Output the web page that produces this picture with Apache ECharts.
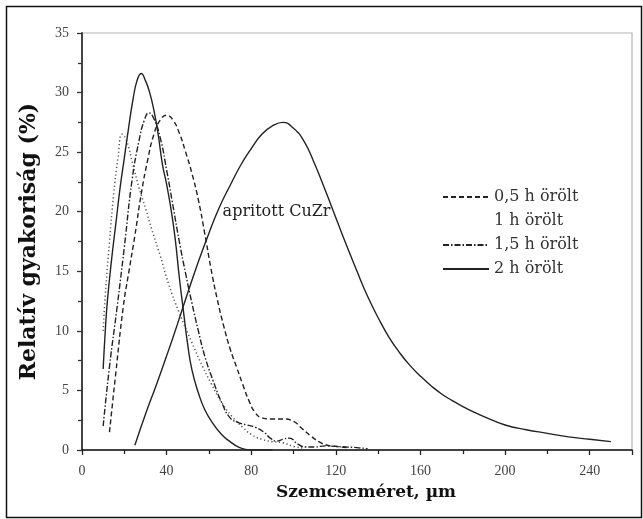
<!DOCTYPE html>
<html>
<head>
<meta charset="utf-8">
<script src="https://cdn.jsdelivr.net/npm/echarts@6/dist/echarts.min.js"></script>
<style>html,body{margin:0;padding:0;background:#fff}#c{width:643px;height:519px}</style>
</head>
<body>
<div id="c"></div>
<script>
// ---- data (x in µm, y in %) ----
var seriesNames = ['0,5 h örölt', '1 h örölt', '1,5 h örölt', '2 h örölt', 'apritott CuZr'];
var annotationText = 'apritott CuZr';
var xTicks = [0, 40, 80, 120, 160, 200, 240];
var yTicks = [0, 5, 10, 15, 20, 25, 30, 35];

var h05 = [[13,1.5],[16,6.5],[19.5,12],[22,14.8],[25,18],[28,21.5],[31,24.3],[34,26.5],[37,27.7],[40,28.1],[43,27.7],[46,26.6],[49,25],[52,23.2],[55,21],[58,18.2],[61,15.2],[64,12.6],[67,10.4],[70,8.5],[73,7],[76,5.5],[79,4.1],[82,3.1],[85,2.7],[90,2.6],[95,2.6],[100,2.4],[104,1.8],[108,1.2],[112,0.7],[116,0.4],[120,0.3],[125,0.2]];
var h1 = [[10,10],[11,13],[13,17.5],[15,21.5],[17,24.5],[19,26.5],[21,26],[24,24],[27,22],[30,20.3],[33,18.5],[37,16.3],[41,13.9],[46,11.5],[52,9.0],[57,7],[61,5.6],[66,4],[71,2.8],[76,1.9],[80,1.3],[85,0.9],[90,0.7],[95,0.6],[100,0.3],[105,0.15]];
var h15 = [[10,2],[13,7],[16.6,12],[20,17],[23.7,22.7],[27,26],[29.5,27.7],[31.6,28.3],[34,27.8],[37,26.2],[40,23.5],[43,20.5],[46,17.5],[49,14.8],[52,12.3],[55,10],[58,7.9],[62,5.8],[66,4],[70,2.7],[74,2.3],[78,2.1],[82,1.9],[86,1.5],[89,1.0],[92,0.75],[95,0.9],[98,1.0],[102,0.5],[106,0.25],[110,0.25],[115,0.35],[120,0.3],[125,0.25],[130,0.2],[135,0.1]];
var h2 = [[10,6.8],[11,10],[12,12.5],[14,16],[16,19],[18,22],[20,24.5],[22,27],[24,29.3],[26,31],[28,31.6],[30,31],[32,30],[34,28.5],[36,26.5],[38,24],[40,22.3],[42,20.3],[44,17.8],[46,14.5],[48,11.6],[50,8.8],[52,6.7],[55,4.8],[58,3.4],[62,2.2],[66,1.3],[70,0.7],[74,0.25],[78,0.03],[80,0],[90,0]];
var cuzr = [[25,0.4],[30,3],[35,5.4],[40,7.9],[45,10.5],[50,13.2],[55,15.8],[60,18.2],[65,20.4],[70,22.2],[75,23.9],[80,25.3],[85,26.5],[90,27.2],[95,27.5],[100,27.0],[105,25.9],[110,24.0],[115,21.8],[120,19.5],[125,17.2],[130,15.0],[135,12.9],[140,11.1],[145,9.5],[150,8.2],[155,7.1],[160,6.2],[165,5.4],[170,4.7],[175,4.15],[180,3.65],[185,3.2],[190,2.8],[200,2.1],[210,1.7],[220,1.4],[230,1.1],[240,0.9],[250,0.7]];
var annotationCoord = [66, 20];

var SERIF = "'Liberation Serif','Times New Roman',serif";
var WIDE = "'DejaVu Serif','Liberation Serif',serif";
var chart = echarts.init(document.getElementById('c'), null, {renderer: 'canvas'});

function line(name, data, type, color, width, extra) {
  var s = {
    name: name, type: 'line', data: data, symbol: 'none', smooth: 0.5,
    lineStyle: {color: color, width: width, type: type},
    itemStyle: {color: color},
    z: 3
  };
  if (extra) for (var k in extra) s[k] = extra[k];
  return s;
}

chart.setOption({
  animation: false,
  backgroundColor: '#fff',
  graphic: [{
    type: 'rect', left: 4, top: 4, shape: {width: 635, height: 511},
    style: {fill: 'none', stroke: '#111', lineWidth: 1.5}, silent: true
  }],
  grid: {left: 82, right: 11, top: 33, bottom: 69, show: true, borderColor: '#b5b5b5', borderWidth: 1.2, backgroundColor: 'transparent'},
  legend: {
    orient: 'vertical', left: 437, top: 184, itemWidth: 46, itemHeight: 14, itemGap: 8,
    itemStyle: {opacity: 0},
    textStyle: {fontFamily: WIDE, fontSize: 16, color: '#333'},
    data: [
      {name: seriesNames[0]},
      {name: seriesNames[1], lineStyle: {opacity: 0}, itemStyle: {opacity: 0}},
      {name: seriesNames[2]},
      {name: seriesNames[3]}
    ]
  },
  xAxis: {
    type: 'value', min: 0, max: 260, interval: 40,
    name: 'Szemcseméret, µm', nameLocation: 'middle', nameGap: 34,
    nameTextStyle: {fontFamily: WIDE, fontSize: 17, fontWeight: 'bold', color: '#111', padding: [0, 0, 0, 18]},
    axisLine: {show: true, lineStyle: {color: '#111', width: 1.6}},
    axisTick: {show: true, inside: false, length: 5, lineStyle: {color: '#222', width: 1.3}},
    minorTick: {show: true, splitNumber: 2, length: 4, lineStyle: {color: '#222', width: 1.3}},
    axisLabel: {fontFamily: SERIF, fontSize: 14, color: '#444', margin: 14,
      formatter: function (v) { return xTicks.indexOf(v) >= 0 ? String(v) : ''; }},
    splitLine: {show: false}
  },
  yAxis: {
    type: 'value', min: 0, max: 35, interval: 5,
    name: 'Relatív gyakoriság (%)', nameLocation: 'middle', nameGap: 42,
    nameTextStyle: {fontFamily: WIDE, fontSize: 22, fontWeight: 'bold', color: '#111'},
    axisLine: {show: true, lineStyle: {color: '#444', width: 2}},
    axisTick: {show: true, inside: false, length: 5, lineStyle: {color: '#333', width: 1.3}},
    minorTick: {show: true, splitNumber: 2, length: 4, lineStyle: {color: '#333', width: 1.3}},
    axisLabel: {fontFamily: SERIF, fontSize: 14, color: '#444', margin: 13,
      formatter: function (v) { return yTicks.indexOf(v) >= 0 ? String(v) : ''; }},
    splitLine: {show: false}
  },
  series: [
    line(seriesNames[0], h05, [5, 3], '#222', 1.4),
    line(seriesNames[1], h1, [1.2, 2.6], '#555', 1.5),
    line(seriesNames[2], h15, [6, 2, 1.5, 2], '#222', 1.4),
    line(seriesNames[3], h2, 'solid', '#222', 1.4),
    line(seriesNames[4], cuzr, 'solid', '#222', 1.4, {
      markPoint: {
        symbol: 'circle', symbolSize: 0, silent: true,
        label: {show: true, position: 'right', distance: 1, formatter: annotationText,
          fontFamily: WIDE, fontSize: 16, color: '#222'},
        data: [{coord: annotationCoord}]
      }
    })
  ]
});
</script>
</body>
</html>
